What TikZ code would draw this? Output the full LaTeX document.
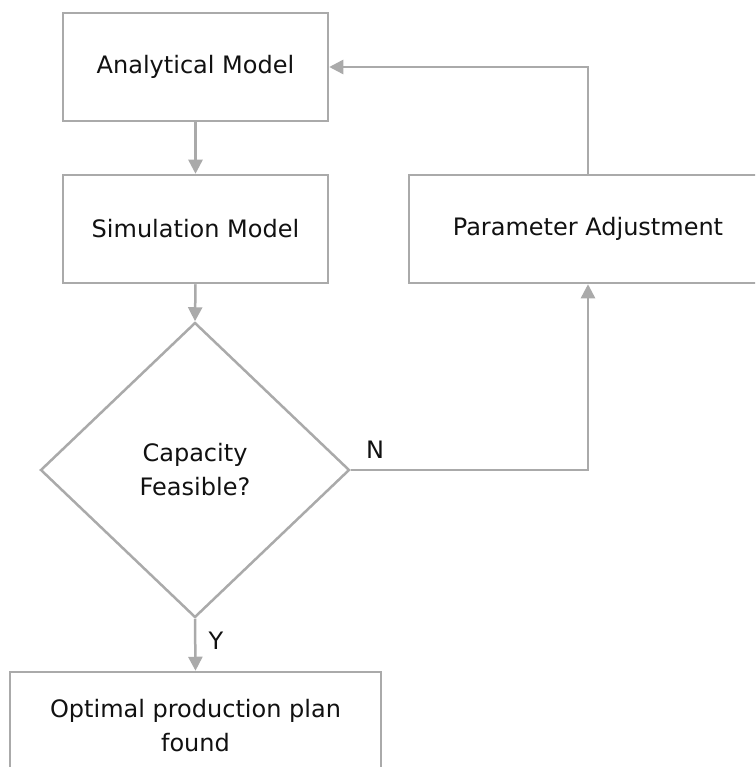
\documentclass[tikz,border=0pt]{standalone}
\usepackage{fontspec}
\setmainfont{DejaVu Sans}
\usetikzlibrary{shapes.geometric,arrows.meta}
\definecolor{edgegray}{HTML}{AAAAAA}
\definecolor{txt}{HTML}{111111}
\tikzset{
  procbox/.style={draw=edgegray, line width=2.5pt, rectangle, inner sep=0pt,
    minimum height=108pt, align=center, text=txt,
    font=\fontsize{24pt}{34pt}\selectfont},
  decbox/.style={draw=edgegray, line width=2.5pt, diamond, inner sep=0pt,
    minimum width=309pt, minimum height=295pt, align=center, text=txt,
    font=\fontsize{24pt}{34pt}\selectfont},
  conn/.style={draw=edgegray, line width=2.5pt,
    -{Triangle[length=14pt,width=14pt]}},
  lbl/.style={text=txt, font=\fontsize{24pt}{28pt}\selectfont, inner sep=0pt}
}
\begin{document}
\begin{tikzpicture}[x=1pt,y=-1pt]
\useasboundingbox (0,0) rectangle (755,767);
\clip (0,0) rectangle (755,767);
\fill[white] (0,0) rectangle (755,767);
\node[procbox, minimum width=265pt] (am) at (195.5,67) {Analytical Model};
\node[procbox, minimum width=265pt] (sm) at (195.5,229) {Simulation Model};
\node[procbox, minimum width=358pt] (pa) at (588,229) {Parameter Adjustment};
\node[decbox] (dec) at (195,470) {Capacity\\Feasible?};
\node[procbox, minimum width=371pt] (opt) at (195.5,726) {Optimal production plan\\found};
\draw[conn] (am.south) -- (sm.north);
\draw[conn] (sm.south) -- (dec.north);
\draw[conn] (dec.south) -- (opt.north);
\draw[conn] (dec.east) -- (pa.south |- dec.east) -- (pa.south);
\draw[conn] (pa.north) |- (am.east);
\node[lbl] (ylab) at (216,641) {Y};
\node[lbl] (nlab) at (375,450) {N};
\end{tikzpicture}
\end{document}
